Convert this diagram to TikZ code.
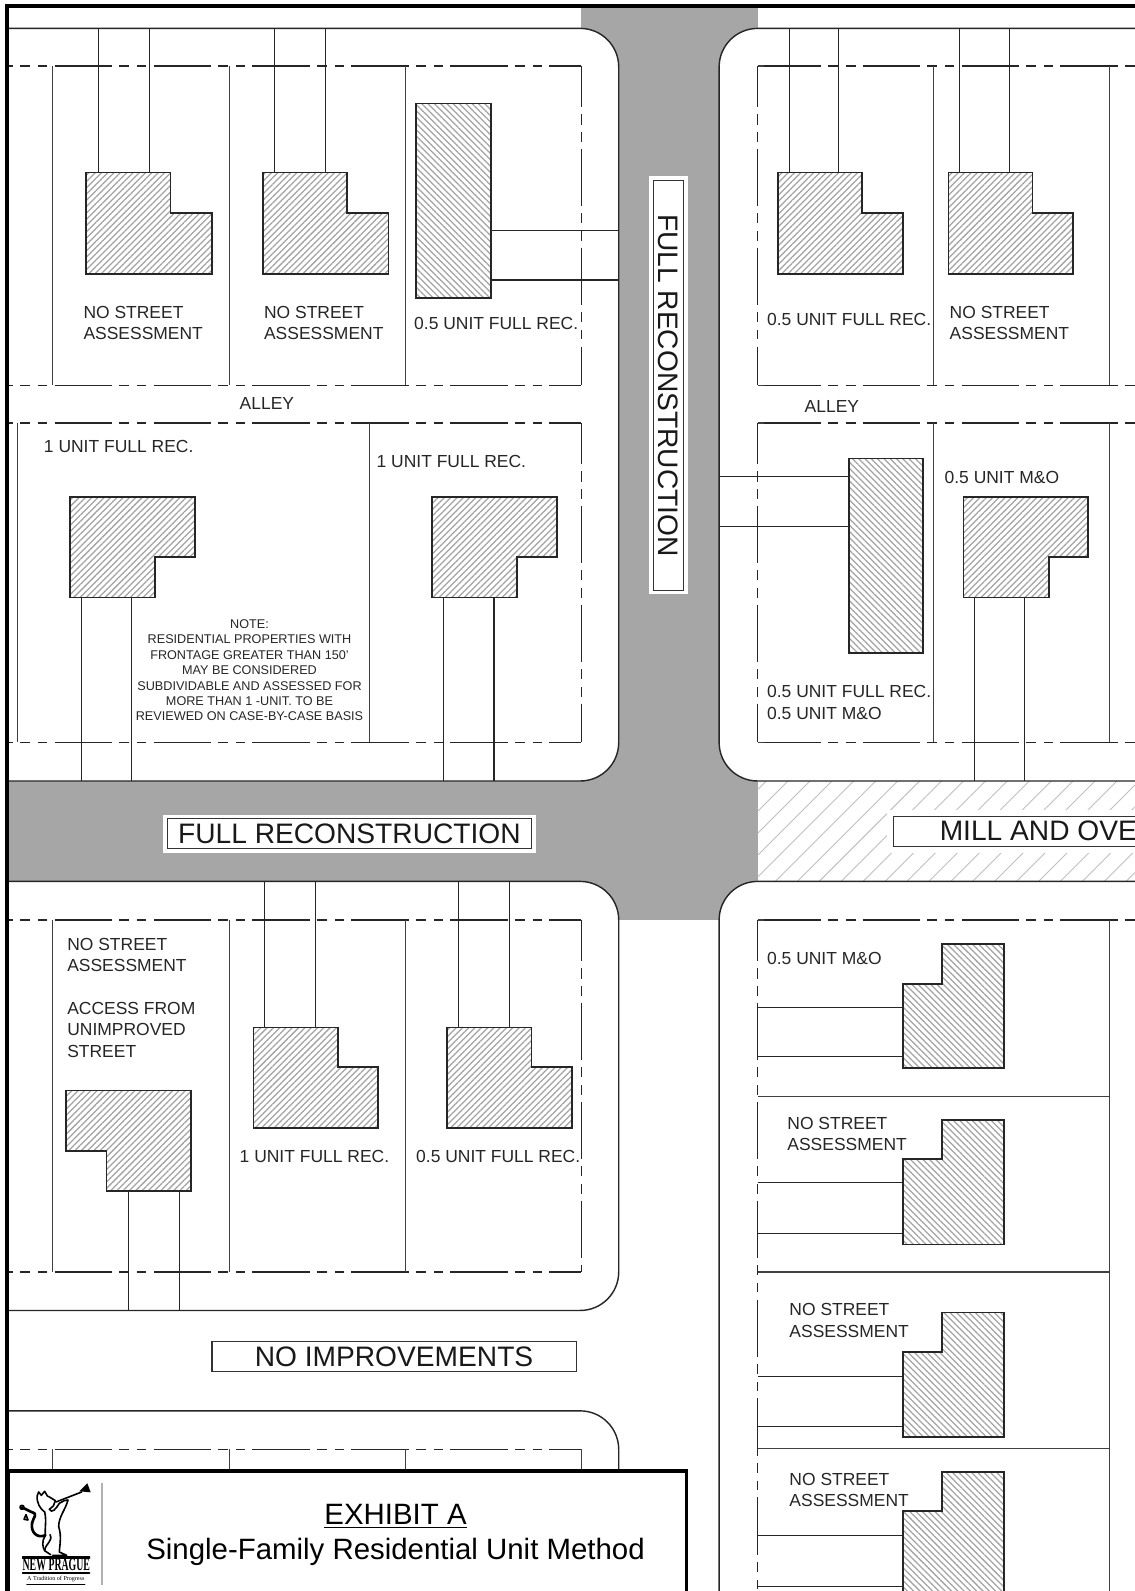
\documentclass[tikz,border=0pt]{standalone}
\usepackage{fontspec}
\setmainfont{Liberation Sans}
\newfontfamily\logofont{Liberation Serif}
\usetikzlibrary{patterns.meta}
\definecolor{roadgray}{HTML}{A6A6A6}
\tikzset{
  blk/.style    = {draw=black!85, fill=white, line width=0.8pt, rounded corners=0.76cm},
  frm/.style    = {draw=black, line width=2pt},
  lot/.style    = {draw=black!75, line width=0.65pt},
  row/.style    = {draw=black!85, line width=0.65pt,
                   dash pattern=on 32.2pt off 4pt on 5.7pt off 4.4pt on 5.2pt off 4pt},
  rowl/.style   = {row, dash phase=29.4pt},
  rowr/.style   = {row, dash phase=52.1pt},
  rowv/.style   = {row, dash phase=9pt},
  drv/.style    = {draw=black!85, line width=0.65pt},
  bldg/.style   = {draw=black!85, line width=0.95pt,
                   pattern={Lines[angle=45,distance=2.5pt,line width=0.7pt]},
                   pattern color=black!36},
  bldgb/.style  = {draw=black!85, line width=0.95pt,
                   pattern={Lines[angle=-45,distance=2.5pt,line width=0.7pt]},
                   pattern color=black!36},
  lbl/.style    = {inner sep=0pt, align=left, anchor=north west, text=black!85,
                   font=\fontsize{9.8}{12}\selectfont},
  lbo/.style    = {lbl, anchor=west},
  road/.style   = {draw=black!80, fill=white, line width=0.6pt, inner sep=0pt,
                   minimum width=7.18cm, minimum height=0.59cm, text=black!90,
                   font=\fontsize{15.8}{18}\selectfont},
  roadw/.style  = {road, preaction={draw=white, line width=4.6pt}},
}

\begin{document}
\begin{tikzpicture}[x=0.02cm, y=-0.02cm]
\clip[use as bounding box] (0,0) rectangle (1119,1568.6);

% ═══════════════════════════════════════════════════════════
%  ROADS
% ═══════════════════════════════════════════════════════════
\fill[roadgray] (573,6) rectangle (747,907);
\fill[roadgray] (8,770) rectangle (747,869);
\path[pattern={Lines[angle=45,distance=8.7pt,line width=0.5pt]}, pattern color=black!25]
  (747,770) rectangle (1125,869);

% ═══════════════════════════════════════════════════════════
%  BLOCKS
% ═══════════════════════════════════════════════════════════
\draw[blk] (8,28) -- (610,28) -- (610,770) -- (8,770);
\draw[blk] (1130,28) -- (709,28) -- (709,770) -- (1130,770);
\draw[blk] (8,869) -- (610,869) -- (610,1292) -- (8,1292);
\draw[blk] (1130,869) -- (709,869) -- (709,1600);
\draw[blk] (8,1391) -- (610,1391) -- (610,1600);

% ═══════════════════════════════════════════════════════════
%  BLOCK 1  –  upper left
% ═══════════════════════════════════════════════════════════
\draw[rowl] (8,65) -- (573,65);
\draw[rowl] (8,380) -- (573,380);
\draw[rowv] (573,65) -- (573,380);
\draw[lot] (52,65) -- (52,380);
\draw[lot] (226,65) -- (226,380);
\draw[lot] (400,65) -- (400,380);

\draw[drv] (97,28) -- (97,170);
\draw[drv] (147,28) -- (147,170);
\draw[drv] (271,28) -- (271,170);
\draw[drv] (321,28) -- (321,170);
\draw[drv] (484,227) -- (610,227);
\draw[drv] (484,276) -- (610,276);

\draw[bldg] (85,170) -- (168,170) -- (168,210) -- (209,210) -- (209,270) -- (85,270) -- cycle;
\draw[bldg] (259,170) -- (342,170) -- (342,210) -- (383,210) -- (383,270) -- (259,270) -- cycle;
\draw[bldgb] (410,102) rectangle (484,294);

\node[lbl] (as1) at (82,301.5) {NO STREET\\ASSESSMENT};
\node[lbl] (as2) at (260,301.5) {NO STREET\\ASSESSMENT};
\node[lbo] (fr1) at (408,319) {0.5 UNIT FULL REC.};
\node[lbo] (al1) at (236,398) {ALLEY};

\draw[rowl] (8,417) -- (573,417);
\draw[rowl] (8,732) -- (573,732);
\draw[rowv] (573,417) -- (573,732);
\draw[lot] (17,417) -- (17,732);
\draw[lot] (364,417) -- (364,732);

\draw[drv] (80,589) -- (80,770);
\draw[drv] (130,589) -- (130,770);
\draw[drv] (437,589) -- (437,770);
\draw[drv] (487,589) -- (487,770);

\draw[bldg] (69,490) -- (192,490) -- (192,549) -- (153,549) -- (153,589) -- (69,589) -- cycle;
\draw[bldg] (426,490) -- (549,490) -- (549,549) -- (510,549) -- (510,589) -- (426,589) -- cycle;

\node[lbo] (fr2) at (43,440.5) {1 UNIT FULL REC.};
\node[lbo] (fr3) at (371,454.5) {1 UNIT FULL REC.};
\node[anchor=north, inner sep=0pt, align=center, text=black!85,
      font=\fontsize{7.1}{8.65}\selectfont] (note) at (246,610.5)
  {NOTE:\\
   RESIDENTIAL PROPERTIES WITH\\
   FRONTAGE GREATER THAN 150'\\
   MAY BE CONSIDERED\\
   SUBDIVIDABLE AND ASSESSED FOR\\
   MORE THAN 1 -UNIT. TO BE\\
   REVIEWED ON CASE-BY-CASE BASIS};

% ═══════════════════════════════════════════════════════════
%  BLOCK 2  –  upper right
% ═══════════════════════════════════════════════════════════
\draw[lot] (747,65) -- (754,65) (747,380) -- (754,380) (747,417) -- (754,417)
           (747,732) -- (754,732) (747,907) -- (754,907);
\draw[rowr] (747,65) -- (1125,65);
\draw[rowr] (747,380) -- (1125,380);
\draw[rowv] (747,65) -- (747,380);
\draw[lot] (920,65) -- (920,380);
\draw[lot] (1094,65) -- (1094,380);

\draw[drv] (778,28) -- (778,170);
\draw[drv] (827,28) -- (827,170);
\draw[drv] (946,28) -- (946,170);
\draw[drv] (995,28) -- (995,170);

\draw[bldg] (767,170) -- (850,170) -- (850,210) -- (890,210) -- (890,270) -- (767,270) -- cycle;
\draw[bldg] (935,170) -- (1018,170) -- (1018,210) -- (1058,210) -- (1058,270) -- (935,270) -- cycle;

\node[lbo] (fr4) at (756,314.5) {0.5 UNIT FULL REC.};
\node[lbl] (as3) at (936,301.5) {NO STREET\\ASSESSMENT};
\node[lbo] (al2) at (793,400.5) {ALLEY};

\draw[rowr] (747,417) -- (1125,417);
\draw[rowr] (747,732) -- (1125,732);
\draw[rowv] (747,417) -- (747,732);
\draw[lot] (920,417) -- (920,732);
\draw[lot] (1094,417) -- (1094,732);

\draw[drv] (709,470) -- (837,470);
\draw[drv] (709,519) -- (837,519);
\draw[drv] (961,589) -- (961,770);
\draw[drv] (1010,589) -- (1010,770);

\draw[bldgb] (837,452) rectangle (910,644);
\draw[bldg] (950,490) -- (1073,490) -- (1073,549) -- (1034,549) -- (1034,589) -- (950,589) -- cycle;

\node[lbo] (mo1) at (931,470.5) {0.5 UNIT M\&O};
\node[lbl] (fr5) at (756,675.5) {0.5 UNIT FULL REC.\\0.5 UNIT M\&O};

% ═══════════════════════════════════════════════════════════
%  BLOCK 3  –  middle left
% ═══════════════════════════════════════════════════════════
\draw[rowl] (8,907) -- (573,907);
\draw[rowl] (8,1254) -- (573,1254);
\draw[rowv] (573,907) -- (573,1254);
\draw[lot] (52,907) -- (52,1254);
\draw[lot] (226,907) -- (226,1254);
\draw[lot] (400,907) -- (400,1254);

\draw[drv] (261,869) -- (261,1013);
\draw[drv] (311,869) -- (311,1013);
\draw[drv] (452,869) -- (452,1013);
\draw[drv] (502,869) -- (502,1013);
\draw[drv] (127,1174) -- (127,1292);
\draw[drv] (177,1174) -- (177,1292);

\draw[bldg] (250,1013) -- (333,1013) -- (333,1052) -- (373,1052) -- (373,1112) -- (250,1112) -- cycle;
\draw[bldg] (441,1013) -- (524,1013) -- (524,1052) -- (564,1052) -- (564,1112) -- (441,1112) -- cycle;
\draw[bldg] (65,1075) -- (188,1075) -- (188,1174) -- (105,1174) -- (105,1135) -- (65,1135) -- cycle;

\node[lbl] (as4) at (66,924.5) {NO STREET\\ASSESSMENT\\[12pt]ACCESS FROM\\UNIMPROVED\\STREET};
\node[lbo] (fr6) at (236,1140.5) {1 UNIT FULL REC.};
\node[lbo] (fr7) at (410,1140.5) {0.5 UNIT FULL REC.};

% ═══════════════════════════════════════════════════════════
%  BLOCK 4  –  lower right
% ═══════════════════════════════════════════════════════════
\draw[rowr] (747,907) -- (1125,907);
\draw[rowv] (747,907) -- (747,1600);
\draw[lot] (1094,907) -- (1094,1600);
\draw[lot] (747,1081) -- (1094,1081);
\draw[lot] (747,1254) -- (1094,1254);
\draw[lot] (747,1428) -- (1094,1428);

\draw[drv] (747,993) -- (890,993);
\draw[drv] (747,1042) -- (890,1042);
\draw[drv] (747,1166) -- (890,1166);
\draw[drv] (747,1216) -- (890,1216);
\draw[drv] (747,1357) -- (890,1357);
\draw[drv] (747,1406) -- (890,1406);
\draw[drv] (747,1514) -- (890,1514);
\draw[drv] (747,1564) -- (890,1564);

\draw[bldgb] (929,931) -- (990,931) -- (990,1053) -- (890,1053) -- (890,970) -- (929,970) -- cycle;
\draw[bldgb] (929,1104) -- (990,1104) -- (990,1227) -- (890,1227) -- (890,1143) -- (929,1143) -- cycle;
\draw[bldgb] (929,1294) -- (990,1294) -- (990,1417) -- (890,1417) -- (890,1333) -- (929,1333) -- cycle;
\draw[bldgb] (929,1451) -- (990,1451) -- (990,1600) -- (890,1600) -- (890,1490) -- (929,1490) -- cycle;

\node[lbo] (mo2) at (756,944.5) {0.5 UNIT M\&O};
\node[lbl] (as5) at (776,1101) {NO STREET\\ASSESSMENT};
\node[lbl] (as6) at (778,1285) {NO STREET\\ASSESSMENT};
\node[lbl] (as7) at (778,1452) {NO STREET\\ASSESSMENT};

% ═══════════════════════════════════════════════════════════
%  BLOCK 5  –  cut off by the title block
% ═══════════════════════════════════════════════════════════
\draw[rowl] (8,1429) -- (573,1429);
\draw[lot] (52,1429) -- (52,1450);
\draw[lot] (226,1429) -- (226,1450);
\draw[lot] (400,1429) -- (400,1450);
\draw[lot] (573,1429) -- (573,1450);

% ═══════════════════════════════════════════════════════════
%  ROAD LABELS
% ═══════════════════════════════════════════════════════════
\node[roadw, rotate=-90, minimum width=8.08cm, minimum height=0.6cm] (rd1) at (659,380)
  {FULL RECONSTRUCTION};
\node[roadw] (rd2) at (344.5,822) {FULL RECONSTRUCTION};
\node[road, preaction={draw=white, line width=7.5pt}, anchor=west, minimum width=0pt] (rd3) at (880.5,819.5)
  {\hspace*{0.91cm}MILL AND OVE\hspace*{1cm}};
\node[road, minimum height=0.58cm] (rd4) at (388.5,1337.5) {NO IMPROVEMENTS};

% ═══════════════════════════════════════════════════════════
%  TITLE BLOCK
% ═══════════════════════════════════════════════════════════
\draw[frm, fill=white] (8,1450) rectangle (677,1600);
\draw[black!30, line width=0.7pt] (100.5,1462) -- (100.5,1563);

\node[inner sep=0pt, anchor=base, font=\fontsize{16.5}{19}\selectfont] (ttl1) at (390,1503)
  {\underline{EXHIBIT A}};
\node[inner sep=0pt, anchor=base, font=\fontsize{16.5}{19}\selectfont] (ttl2) at (390,1538)
  {Single-Family Residential Unit Method};

% logo, rough trace
\begin{scope}[shift={(0,1439.4)}, x=0.00657cm, y=-0.00657cm, line cap=round, line join=round]
  \draw[line width=0.9pt] (168,126) -- (245,96);
  \fill (238,94) -- (262,70) -- (272,97) -- cycle;
  \draw[line width=0.9pt] (112,106) -- (116,96) -- (124,106) -- (134,94) -- (142,108) -- (150,112)
    -- (166,122) -- (160,138) -- (148,148);
  \draw[line width=0.9pt] (112,106) .. controls (108,128) and (122,148) .. (134,156)
    .. controls (140,180) and (134,206) .. (136,226)
    .. controls (124,244) and (128,262) .. (134,272) -- (152,284);
  \draw[line width=0.9pt] (178,130) .. controls (190,124) and (196,118) .. (204,120)
    .. controls (196,150) and (176,170) .. (176,200)
    .. controls (186,230) and (178,262) .. (178,276) -- (200,286) -- (158,286);
  \draw[line width=0.9pt] (148,148) .. controls (156,162) and (168,146) .. (178,130);
  \draw[line width=1.5pt] (136,226) .. controls (110,236) and (92,216) .. (96,190)
    .. controls (100,170) and (116,162) .. (94,156) -- (66,142);
  \draw[line width=0.9pt] (66,142) circle (6) (78,164) -- (84,180) -- (72,178) -- cycle;
  \draw[line width=0.9pt] (150,224) .. controls (160,244) and (136,250) .. (134,272);
  \draw[line width=1pt] (68,290) -- (268,290) (68,294) -- (268,294) (68,340) -- (268,340);
  \draw[line width=0.4pt] (80,372) -- (255,372);
\end{scope}
\node[inner sep=0pt, xscale=0.55, font=\logofont\bfseries\fontsize{10}{12}\selectfont] (lg1) at (55.5,1543)
  {NEW PRAGUE};
\node[inner sep=0pt, font=\logofont\fontsize{3.4}{4}\selectfont] (lg2) at (55,1556.5)
  {A Tradition of Progress};

% ═══════════════════════════════════════════════════════════
%  OUTER FRAME
% ═══════════════════════════════════════════════════════════
\draw[frm] (7,1600) -- (7,6) -- (1125,6);

\end{tikzpicture}
\end{document}
